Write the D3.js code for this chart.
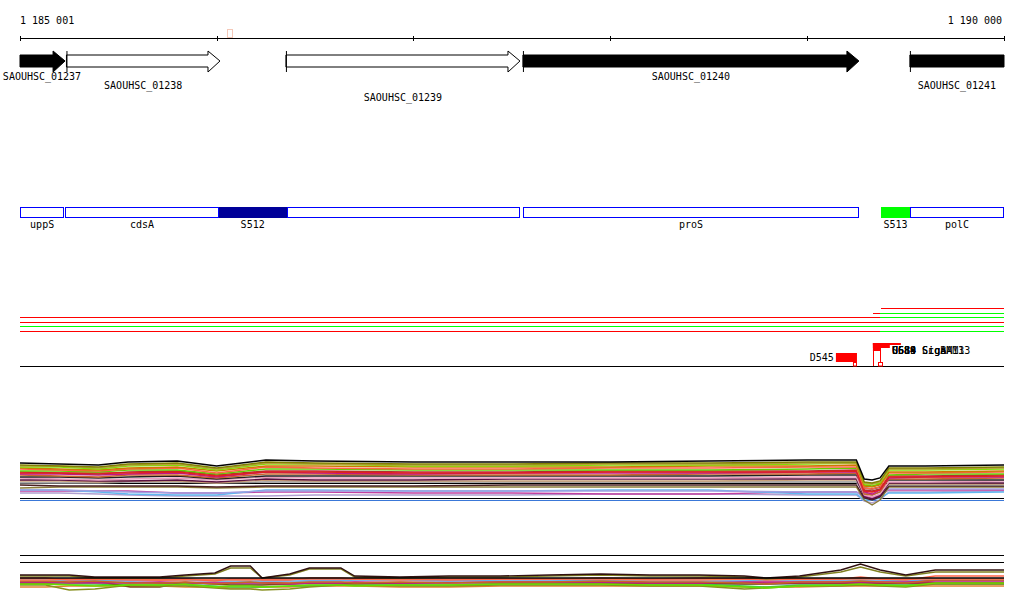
<!DOCTYPE html>
<html><head><meta charset="utf-8">
<script src="https://cdn.jsdelivr.net/npm/d3@7"></script>
<style>
html,body{margin:0;padding:0;background:#fff;}
svg{display:block;}
text{font-family:"DejaVu Sans Mono",monospace;font-size:10px;fill:#000;}
</style></head>
<body>
<script>
// ---------- DATA ----------
const DOMAIN = [1185001, 1190000];
const AXIS_TICKS = [1185001, 1186000, 1187000, 1188000, 1189000, 1190000];
const AXIS_LABELS = ["1 185 001", "1 190 000"];

const GENE_NAMES  = ["SAOUHSC_01237","SAOUHSC_01238","SAOUHSC_01239","SAOUHSC_01240","SAOUHSC_01241"];
const GENE_START  = [1184900, 1185237, 1186352, 1187556, 1189522];
const GENE_END    = [1185230, 1186017, 1187541, 1189263, 1190270];
const GENE_FILLED = [true, false, false, true, true];
const GENE_TIER   = [0, 1, 2, 0, 1];

const FEAT_NAMES = ["uppS","cdsA","S512","","proS","S513","polC"];
const FEAT_START = [1184900, 1185232, 1186010, 1186356, 1187556, 1189375, 1189522];
const FEAT_END   = [1185226, 1186010, 1186356, 1187541, 1189263, 1189522, 1190270];
const FEAT_KIND  = ["utr","utr","dark","utr","utr","green","utr"];

// segment tracks (row, start, end, colour class)
const SEG_ROW   = [0, 1, 1, 2, 2, 3, 4, 5, 5];
const SEG_START = [1189375, 1189334, 1189370, 1185001, 1189370, 1185001, 1185001, 1185001, 1189370];
const SEG_END   = [1190000, 1189370, 1190000, 1189370, 1190000, 1190000, 1190000, 1189370, 1190000];
const SEG_KIND  = ["r","r","g","r","g","r","g","r","g"];

// site markers
const SITE_NAMES = ["D545"];
const SITE_START = [1189146];
const SITE_END   = [1189253];
const PEAK_STARTS = [1189334, 1189334, 1189334];
const PEAK_ENDS   = [1189370, 1189420, 1189476];
const PEAK_DEPTH  = [8, 5, 2];
const PEAK_LABELS = ["U684", "U689", "C589 SigaA", "S514 SigB M13", "U688 CcgAM13"];

// expression panel 1 (height above baseline)
const P1_POS = [1185001,1185200,1185400,1185550,1185800,1186000,1186250,1186500,1187000,1187500,1188000,1188500,1189000,1189250,1189290,1189330,1189370,1189415,1189600,1190000];
const P1_COLORS = ["#b0a0d0","#c040a0","#60b8f0","#a0a0e0","#8b7d3a","#4a2020","#909090","#c8a078","#5a1040","#e8a0c0","#222222","#c8642d","#c0188a","#b03030","#e02020","#66cc00","#ff6347","#cc7a00","#7fdf00","#b8a040","#808000","#000000"];
const P1_VALUES = [
 [7,7,6,5,4,4,4,5,5,5,6,6,5,5,-1,-3,0,8,8,9],
 [9,9,9,9,7,7,8,8,7,7,6,6,8,8,4,2,5,10,10,10],
 [10,10,8,6,5,5,10,10,9,9,10,10,6,6,0,0,2,7,7,8],
 [10,10,9,8,7,7,9,9,9,9,9,9,8,8,2,1,3,11,11,11],
 [12,13,13,13,13,12,13,13,13,13,13,13,13,13,0,-5,0,13,13,13],
 [15,14,14,14,14,13,14,14,14,15,15,15,15,15,2,0,3,14,14,14],
 [17,17,17,18,18,17,18,18,18,18,18,18,18,18,7,5,8,15,15,15],
 [19,19,18,19,19,17,20,19,19,19,19,19,20,20,10,8,10,16,16,16],
 [20,20,19,19,20,18,21,20,20,21,21,21,21,21,3,1,4,17,17,17],
 [22,21,20,21,22,20,23,22,22,22,22,22,23,23,5,3,6,18,18,19],
 [23,23,22,23,24,21,24,24,24,24,24,24,25,25,12,11,13,20,20,20],
 [25,24,23,25,25,22,26,26,25,25,25,26,26,27,6,5,8,21,21,22],
 [26,26,25,26,27,23,28,27,26,27,27,27,28,28,8,6,10,22,23,23],
 [28,27,26,28,29,25,29,29,28,28,29,29,29,30,10,9,11,24,24,25],
 [27,27,27,27,28,24,28,28,27,27,28,28,28,29,9,8,10,23,23,24],
 [29,29,28,30,30,26,31,31,30,30,30,30,31,32,15,14,16,25,26,26],
 [31,30,29,31,32,27,33,32,31,31,32,32,33,33,12,11,13,27,27,28],
 [32,31,30,32,33,29,34,34,33,33,33,34,34,35,14,13,15,28,28,29],
 [33,33,31,34,35,30,36,36,34,34,35,35,36,37,16,16,17,30,30,31],
 [34,34,32,35,36,31,37,36,35,35,36,36,37,37,17,16,18,31,31,32],
 [35,34,33,36,37,32,38,37,36,36,37,37,38,38,18,17,19,32,32,33],
 [37,36,35,38,39,34,40,39,38,38,38,39,40,40,21,20,22,34,34,35]
];
const P1_REF_LEVELS = [16, 1];
const P1_BASE_LEVEL = 0;

// expression panel 2
const P2_POS = [1185001,1185131,1185251,1185381,1185561,1185711,1185841,1185991,1186071,1186171,1186231,1186371,1186471,1186631,1186701,1186931,1187181,1187441,1187691,1187951,1188201,1188451,1188681,1188791,1188961,1189171,1189271,1189371,1189501,1189651,1189781,1190000];
const P2_COLORS = ["#9090c0","#e08030","#40d040","#7a4a1a","#b02040","#8a60b0","#e0a0c0","#60b0f0","#c0208a","#889020","#66dd00","#c86428","#ff7a50","#ff6347","#808020","#301010"];
const P2_VALUES = [
 [12,12,12,12,12,11,11,11,11,11,11,11,11,11,11,11,12,12,12,12,11,11,11,11,11,11,11,11,11,11,11,11],
 [8,8,9,9,9,9,8,8,7,7,8,8,9,9,9,8,8,9,9,9,9,9,8,8,8,9,9,9,9,9,9,9],
 [11,11,11,11,10,10,10,9,8,8,8,9,9,10,10,10,10,11,11,11,11,11,9,8,10,10,10,10,10,11,11,11],
 [13,13,14,14,8,8,13,11,10,10,10,11,12,12,12,12,13,13,13,13,12,12,11,11,12,12,13,12,12,12,12,12],
 [12,12,13,13,13,12,12,13,12,13,13,12,12,12,12,12,13,12,12,12,12,12,13,12,12,12,12,12,12,12,12,12],
 [16,16,16,16,16,16,16,15,16,16,16,16,15,15,16,16,16,16,16,16,16,16,16,16,16,16,16,16,16,16,16,16],
 [14,14,14,14,14,14,14,13,13,13,14,13,13,13,14,14,14,14,14,14,14,14,14,14,14,14,14,14,14,14,14,14],
 [15,15,15,15,14,15,15,14,14,14,14,14,14,14,15,15,14,15,15,14,14,14,14,15,15,15,15,15,14,15,15,15],
 [13,13,12,12,12,13,12,12,12,12,12,11,12,12,13,12,12,13,13,13,12,12,13,13,13,13,13,13,13,14,14,14],
 [10,10,5,6,10,9,9,7,6,6,5,6,8,10,10,9,9,10,10,10,9,9,6,7,9,9,10,9,8,11,11,11],
 [11,11,10,9,10,10,11,8,9,9,8,9,10,10,9,10,10,11,11,11,10,10,8,7,9,10,11,10,9,12,12,12],
 [14,14,13,14,12,12,13,11,12,13,12,12,13,13,12,13,12,13,13,14,13,13,12,11,13,13,14,13,12,15,15,15],
 [15,15,16,16,16,15,15,16,15,15,16,16,16,16,16,15,16,16,16,16,15,15,16,16,16,16,16,16,16,16,16,16],
 [17,17,15,16,15,15,16,14,16,16,15,15,17,17,16,16,15,16,16,17,16,17,16,15,16,16,18,16,15,19,19,19],
 [19,19,19,17,17,17,19,21,27,27,17,20,26,26,18,17,18,18,19,20,19,19,18,16,18,23,28,23,19,23,23,23],
 [20,20,20,18,18,18,20,22,29,29,17,21,27,27,19,18,19,19,20,21,20,20,19,17,19,25,31,25,20,25,25,25]
];
const P2_REF_LEVELS = [40, 33];
const P2_MID_LEVEL = 17;

// ---------- DRAW ----------
const W = 1024, H = 611;
const svg = d3.select("body").append("svg").attr("width", W).attr("height", H);
const x = d3.scaleLinear().domain(DOMAIN).range([20, 1004]);
const xc = v => Math.max(20, Math.min(1004, x(v)));

// axis
const axisY = 38.5;
svg.append("line").attr("x1", x(DOMAIN[0])).attr("x2", x(DOMAIN[1]))
  .attr("y1", axisY).attr("y2", axisY).attr("stroke", "#000").attr("shape-rendering","crispEdges");
svg.selectAll(".tick").data(AXIS_TICKS).join("line")
  .attr("x1", d => Math.round(x(d)) + 0.5).attr("x2", d => Math.round(x(d)) + 0.5)
  .attr("y1", 36).attr("y2", 41).attr("stroke", "#000").attr("shape-rendering","crispEdges");
svg.append("text").attr("x", x(DOMAIN[0])).attr("y", 24).text(AXIS_LABELS[0]);
svg.append("text").attr("x", x(DOMAIN[1]) - 2).attr("y", 24).attr("text-anchor","end").text(AXIS_LABELS[1]);
svg.append("rect").attr("x", 227.5).attr("y", 29.5).attr("width", 5).attr("height", 8)
  .attr("fill","none").attr("stroke","#f4c8b8");

// genes
const bodyTop = 55, bodyBot = 67, headTop = 51, headBot = 72, headLen = 12;
const tierY = [80, 89, 101];
GENE_NAMES.forEach((name, i) => {
  const x0 = xc(GENE_START[i]), x1 = xc(GENE_END[i]);
  const clippedEnd = x(GENE_END[i]) > 1004;
  let pts;
  if (clippedEnd) {
    pts = [[x0, bodyTop], [x1, bodyTop], [x1, bodyBot], [x0, bodyBot]];
  } else {
    const hb = x1 - headLen;
    pts = [[x0, bodyTop], [hb, bodyTop], [hb, headTop], [x1, (bodyTop + bodyBot) / 2], [hb, headBot], [hb, bodyBot], [x0, bodyBot]];
  }
  svg.append("polygon").attr("points", pts.map(p => p.join(",")).join(" "))
    .attr("fill", GENE_FILLED[i] ? "#000" : "#fff").attr("stroke", "#000").attr("stroke-width", 1);
  if (x(GENE_START[i]) >= 20) {
    svg.append("line").attr("x1", x0 + 0.5).attr("x2", x0 + 0.5).attr("y1", headTop).attr("y2", headBot)
      .attr("stroke", "#000");
  }
  const cx = name === "SAOUHSC_01237" ? 42 : (x0 + x1) / 2;
  svg.append("text").attr("x", cx).attr("y", tierY[GENE_TIER[i]]).attr("text-anchor","middle").text(name);
});

// features
FEAT_NAMES.forEach((name, i) => {
  const x0 = xc(FEAT_START[i]), x1 = xc(FEAT_END[i]);
  const k = FEAT_KIND[i];
  svg.append("rect").attr("x", x0 + 0.5).attr("y", 207.5).attr("width", x1 - x0 - 1).attr("height", 10)
    .attr("fill", k === "dark" ? "#000099" : k === "green" ? "#00ff00" : "#fff")
    .attr("stroke", k === "utr" ? "#0000ff" : (k === "dark" ? "#000099" : "#00ff00"))
    .attr("shape-rendering","crispEdges");
  if (name) svg.append("text").attr("x", (x0 + x1) / 2).attr("y", 228).attr("text-anchor","middle").text(name);
});

// segment tracks
const rowY = d3.scalePoint().domain(d3.range(6)).range([308, 331]);
SEG_ROW.forEach((r, i) => {
  const yy = Math.round(rowY(r)) + 0.5;
  svg.append("line").attr("x1", x(SEG_START[i])).attr("x2", x(SEG_END[i]))
    .attr("y1", yy).attr("y2", yy).attr("stroke", SEG_KIND[i] === "r" ? "#ff0000" : "#00ff00")
    .attr("stroke-width", 1).attr("shape-rendering","crispEdges");
});

// site track baseline
const siteBase = 366.5;
svg.append("line").attr("x1", 20).attr("x2", 1004).attr("y1", siteBase).attr("y2", siteBase)
  .attr("stroke", "#000").attr("shape-rendering","crispEdges");
SITE_NAMES.forEach((n, i) => {
  const x0 = x(SITE_START[i]), x1 = x(SITE_END[i]);
  svg.append("rect").attr("x", x0).attr("y", 353).attr("width", x1 - x0).attr("height", 9).attr("fill", "#ff0000");
  svg.append("rect").attr("x", x1 - 3.5).attr("y", 362.5).attr("width", 3).attr("height", 3.5)
    .attr("fill", "#fff").attr("stroke", "#ff0000");
  svg.append("text").attr("x", x0 - 2).attr("y", 361).attr("text-anchor","end").text(n);
});
PEAK_STARTS.forEach((s, i) => {
  svg.append("rect").attr("x", x(s)).attr("y", 343).attr("width", x(PEAK_ENDS[i]) - x(s))
    .attr("height", PEAK_DEPTH[i]).attr("fill", "#ff0000");
});
[PEAK_STARTS[0], PEAK_ENDS[0]].forEach(p => {
  svg.append("line").attr("x1", Math.round(x(p)) + 0.5).attr("x2", Math.round(x(p)) + 0.5)
    .attr("y1", 343).attr("y2", 366).attr("stroke", "#ff0000");
});
svg.append("rect").attr("x", Math.round(x(PEAK_ENDS[0])) - 1.5).attr("y", 362.5).attr("width", 4).attr("height", 3.5)
  .attr("fill", "#fff").attr("stroke", "#ff0000");
PEAK_LABELS.forEach(t => {
  svg.append("text").attr("x", 892).attr("y", 354).text(t);
});

// expression panel 1
const y1 = d3.scaleLinear().domain([0, 40]).range([500, 460]);
const line1 = d3.line().x((d, i) => x(P1_POS[i])).y(d => y1(d));
svg.append("line").attr("x1", 20).attr("x2", 1004).attr("y1", y1(P1_BASE_LEVEL) + 0.5).attr("y2", y1(P1_BASE_LEVEL) + 0.5)
  .attr("stroke", "#3a78d8").attr("shape-rendering","crispEdges");
P1_REF_LEVELS.forEach(v => {
  svg.append("line").attr("x1", 20).attr("x2", 1004).attr("y1", y1(v) - 0.5).attr("y2", y1(v) - 0.5)
    .attr("stroke", "#000").attr("shape-rendering","crispEdges");
});
P1_VALUES.forEach((vals, i) => {
  svg.append("path").attr("d", line1(vals)).attr("fill", "none")
    .attr("stroke", P1_COLORS[i]).attr("stroke-width", 1.4);
});

// expression panel 2
const y2 = d3.scaleLinear().domain([0, 40]).range([595, 555]);
const line2 = d3.line().x((d, i) => x(P2_POS[i])).y(d => y2(d));
P2_REF_LEVELS.forEach(v => {
  svg.append("line").attr("x1", 20).attr("x2", 1004).attr("y1", y2(v) + 0.5).attr("y2", y2(v) + 0.5)
    .attr("stroke", "#000").attr("shape-rendering","crispEdges");
});
P2_VALUES.forEach((vals, i) => {
  svg.append("path").attr("d", line2(vals)).attr("fill", "none")
    .attr("stroke", P2_COLORS[i]).attr("stroke-width", 1.4);
});
svg.append("line").attr("x1", 20).attr("x2", 1004).attr("y1", y2(P2_MID_LEVEL)).attr("y2", y2(P2_MID_LEVEL))
  .attr("stroke", "#000").attr("stroke-width", 1.5);
</script>
</body></html>
